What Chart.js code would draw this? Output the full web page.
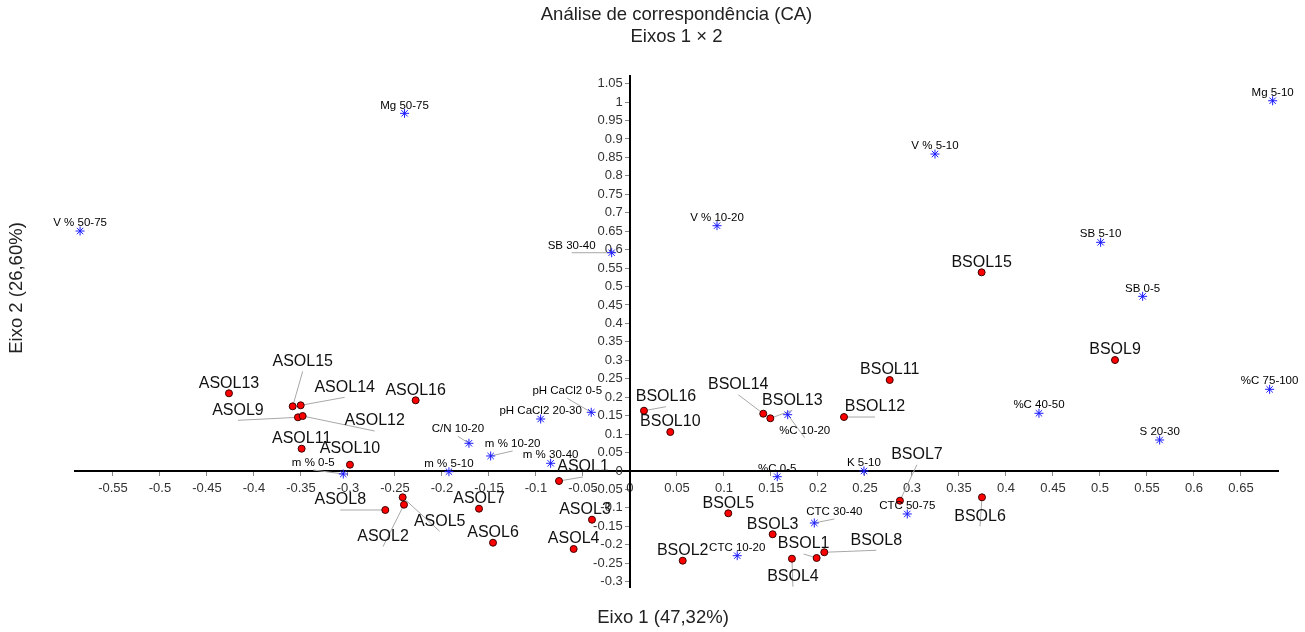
<!DOCTYPE html>
<html>
<head>
<meta charset="utf-8">
<script src="https://cdn.jsdelivr.net/npm/chart.js@4"></script>
<style>
  body { margin: 0; background: #fff; }
</style>
</head>
<body>
<canvas id="grafico" width="1305" height="632"></canvas>
<script>
// amostras (pontos vermelhos)
const amostras = ["ASOL1", "ASOL2", "ASOL3", "ASOL4", "ASOL5", "ASOL6", "ASOL7", "ASOL8",
    "ASOL9", "ASOL10", "ASOL11", "ASOL12", "ASOL13", "ASOL14", "ASOL15", "ASOL16",
    "BSOL1", "BSOL2", "BSOL3", "BSOL4", "BSOL5", "BSOL6", "BSOL7", "BSOL8",
    "BSOL9", "BSOL10", "BSOL11", "BSOL12", "BSOL13", "BSOL14", "BSOL15", "BSOL16"];
const amostrasX = [-0.0755, -0.2404, -0.0404, -0.0599, -0.2418, -0.1457, -0.1606, -0.2603,
    -0.3532, -0.2979, -0.3493, -0.3482, -0.4266, -0.3503, -0.3588, -0.2280,
    0.1986, 0.0561, 0.1518, 0.1723, 0.1046, 0.3745, 0.2872, 0.2067,
    0.5160, 0.0429, 0.2763, 0.2277, 0.1493, 0.1418, 0.3741, 0.0149];
const amostrasY = [-0.0271, -0.0913, -0.1320, -0.2114, -0.0713, -0.1943, -0.1022, -0.1057,
    0.1455, 0.0171, 0.0604, 0.1490, 0.2106, 0.1780, 0.1753, 0.1916,
    -0.2358, -0.2431, -0.1715, -0.2377, -0.1146, -0.0713, -0.0805, -0.2203,
    0.3008, 0.1057, 0.2466, 0.1463, 0.1428, 0.1553, 0.5385, 0.1634];

// variaveis (asteriscos azuis)
const variaveis = ["Mg 50-75", "Mg 5-10", "V % 50-75", "V % 5-10", "V % 10-20", "SB 30-40",
    "SB 5-10", "SB 0-5", "%C 75-100", "%C 40-50", "S 20-30", "pH CaCl2 0-5",
    "pH CaCl2 20-30", "C/N 10-20", "m % 10-20", "m % 30-40", "m % 5-10", "m % 0-5",
    "%C 10-20", "%C 0-5", "K 5-10", "CTC 50-75", "CTC 30-40", "CTC 10-20"];
const variaveisX = [-0.2398, 0.6837, -0.5850, 0.3245, 0.0926, -0.0195,
    0.5007, 0.5454, 0.6805, 0.4351, 0.5635, -0.0412,
    -0.0950, -0.1713, -0.1482, -0.0844, -0.1926, -0.3050,
    0.1678, 0.1567, 0.2489, 0.2950, 0.1961, 0.1141];
const variaveisY = [0.9694, 1.0035, 0.6504, 0.8591, 0.6648, 0.5916,
    0.6198, 0.4734, 0.2214, 0.1564, 0.0840, 0.1591,
    0.1409, 0.0751, 0.0407, 0.0209, -0.0019, -0.0081,
    0.1526, -0.0154, 0.0000, -0.1165, -0.1409, -0.2295];

// limites e passo dos eixos
const eixoXMin = -0.5904, eixoXMax = 0.6894;
const eixoYMin = -0.3144, eixoYMax = 1.0705;
const passo = 0.05;

const titulo = ["Análise de correspondência (CA)", "Eixos 1 × 2"];
const tituloX = "Eixo 1 (47,32%)";
const tituloY = "Eixo 2 (26,60%)";

// deslocamento dos rótulos em px: [dx, dy, linha de chamada]
const offAmostra = {
    ASOL15: [10, -45, 1], ASOL14: [44, -18, 1], ASOL9: [-60, -7, 1], ASOL12: [72, 5, 1],
    ASOL10: [0, -16, 0], ASOL8: [-45, -10, 1], ASOL5: [37, 24, 1], ASOL2: [-21, 32, 1],
    ASOL3: [-7, -10, 0], ASOL1: [24, -14, 1],
    BSOL16: [22, -14, 1], BSOL14: [-25, -29, 1], BSOL13: [22, -18, 1], BSOL12: [31, -10, 1],
    BSOL7: [17, -46, 1], BSOL6: [-2, 19, 1], BSOL4: [1, 18, 1], BSOL1: [-13, -14, 1], BSOL8: [52, -12, 1]
};
const offVariavel = {
    "SB 30-40": [-40, -7, 1], "pH CaCl2 0-5": [-24, -21, 1], "C/N 10-20": [-11, -14, 1],
    "m % 10-20": [22, -12, 1], "m % 0-5": [-30, -11, 1], "%C 10-20": [17, 16, 1], "CTC 30-40": [20, -11, 1]
};

const FONTE = "'Liberation Sans', Arial, sans-serif";

function rotulos() {
    const lista = [];
    amostras.forEach((n, i) => {
        const o = offAmostra[n] || [0, -10, 0];
        lista.push({ x: amostrasX[i], y: amostrasY[i], txt: n, o, meia: 10, tam: 16, cor: "#111" });
    });
    variaveis.forEach((n, i) => {
        const o = offVariavel[n] || [0, -8, 0];
        lista.push({ x: variaveisX[i], y: variaveisY[i], txt: n, o, meia: 7, tam: 11.5, cor: "#000" });
    });
    return lista;
}

const rotuloPlugin = {
    id: "rotulos",
    beforeDatasetsDraw(chart) {
        const { ctx, scales: { x, y } } = chart;
        ctx.save();
        ctx.strokeStyle = "#a8a8a8";
        ctx.lineWidth = 1;
        rotulos().forEach(r => {
            if (!r.o[2]) return;
            const px = x.getPixelForValue(r.x), py = y.getPixelForValue(r.y);
            ctx.beginPath();
            ctx.moveTo(px, py);
            ctx.lineTo(px + r.o[0], py + r.o[1] + r.meia);
            ctx.stroke();
        });
        ctx.restore();
    },
    afterDatasetsDraw(chart) {
        const { ctx, scales: { x, y } } = chart;
        ctx.save();
        ctx.textAlign = "center";
        ctx.textBaseline = "middle";
        rotulos().forEach(r => {
            const px = x.getPixelForValue(r.x), py = y.getPixelForValue(r.y);
            ctx.font = r.tam + "px " + FONTE;
            ctx.fillStyle = r.cor;
            ctx.fillText(r.txt, px + r.o[0], py + r.o[1]);
        });
        ctx.restore();
    },
    afterDraw(chart) {
        const { ctx, chartArea } = chart;
        ctx.save();
        ctx.font = "18.5px " + FONTE;
        ctx.fillStyle = "#222";
        ctx.textAlign = "center";
        ctx.textBaseline = "middle";
        ctx.fillText(tituloX, 663, chartArea.bottom + 31);
        ctx.translate(17, 288);
        ctx.rotate(-Math.PI / 2);
        ctx.fillText(tituloY, 0, 0);
        ctx.restore();
    }
};

const fmt = v => String(Math.round(v * 100) / 100);

new Chart(document.getElementById("grafico"), {
    type: "scatter",
    data: {
        datasets: [
            {
                label: "Variáveis",
                data: variaveis.map((n, i) => ({ x: variaveisX[i], y: variaveisY[i] })),
                pointStyle: "star",
                pointRadius: 4.5,
                borderColor: "#1a1aff",
                backgroundColor: "#1a1aff",
                borderWidth: 1
            },
            {
                label: "Amostras",
                data: amostras.map((n, i) => ({ x: amostrasX[i], y: amostrasY[i] })),
                pointStyle: "circle",
                pointRadius: 3.5,
                backgroundColor: "#ff0000",
                borderColor: "#3a0000",
                borderWidth: 1
            }
        ]
    },
    options: {
        responsive: false,
        animation: false,
        layout: { padding: { left: 75, right: 27, top: 0, bottom: 45 } },
        plugins: {
            legend: { display: false },
            tooltip: { enabled: false },
            title: {
                display: true,
                text: titulo,
                color: "#222",
                font: { family: FONTE, size: 18.5, weight: "normal", lineHeight: 1.19 },
                padding: { top: 4, bottom: 28 }
            }
        },
        scales: {
            x: {
                type: "linear",
                min: eixoXMin,
                max: eixoXMax,
                position: { y: 0 },
                grid: { drawOnChartArea: false, drawTicks: true, tickLength: 4, color: "#888" },
                border: { display: true, color: "#000", width: 2 },
                ticks: {
                    stepSize: passo, includeBounds: false, autoSkip: false, maxRotation: 0,
                    padding: 6, color: "#333", font: { family: FONTE, size: 13 }, callback: fmt
                }
            },
            y: {
                type: "linear",
                min: eixoYMin,
                max: eixoYMax,
                position: { x: 0 },
                grid: { drawOnChartArea: false, drawTicks: true, tickLength: 4, color: "#888" },
                border: { display: true, color: "#000", width: 2 },
                ticks: {
                    stepSize: passo, includeBounds: false, autoSkip: false,
                    color: "#333", font: { family: FONTE, size: 13 },
                    // rótulo centralizado no eixo: espaços afastam o texto da linha
                    callback: v => fmt(v) + "  "
                }
            }
        }
    },
    plugins: [rotuloPlugin]
});
</script>
</body>
</html>
